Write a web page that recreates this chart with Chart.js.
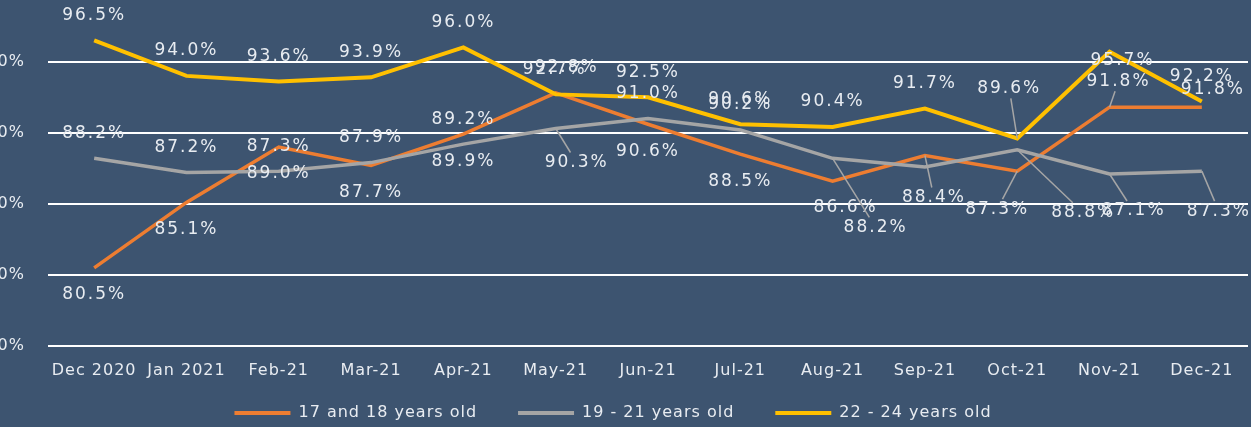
<!DOCTYPE html>
<html>
<head>
<meta charset="utf-8">
<script src="https://cdn.jsdelivr.net/npm/chart.js@4.4.1/dist/chart.umd.min.js"></script>
<style>
  html, body { margin: 0; padding: 0; width: 1251px; height: 427px; overflow: hidden; background: #3d5470; position: relative; }
  #wrap { position: absolute; left: -22px; top: -42px; width: 1273px; height: 473px; }
</style>
</head>
<body>
<div id="wrap"><canvas id="chart"></canvas></div>
<script>
const months = ['Dec 2020', 'Jan 2021', 'Feb-21', 'Mar-21', 'Apr-21', 'May-21', 'Jun-21',
  'Jul-21', 'Aug-21', 'Sep-21', 'Oct-21', 'Nov-21', 'Dec-21'];
const age17to18 = [80.5, 85.1, 89.0, 87.7, 89.9, 92.8, 90.6, 88.5, 86.6, 88.4, 87.3, 91.8, 91.8];
const age19to21 = [88.2, 87.2, 87.3, 87.9, 89.2, 90.3, 91.0, 90.2, 88.2, 87.6, 88.8, 87.1, 87.3];
const age22to24 = [96.5, 94.0, 93.6, 93.9, 96.0, 92.7, 92.5, 90.6, 90.4, 91.7, 89.6, 95.7, 92.2];
const seriesNames = ['17 and 18 years old', '19 - 21 years old', '22 - 24 years old'];
const yMin = 75, yMax = 100, yStep = 5;

const TEXT = '#e8ecf1';
const COLORS = ['#ed7d31', '#a5a5a5', '#ffc000'];

// where each data label sits relative to its point: [dx, dy, leaderLine]
// "def" is the usual spot, numbered keys are the months that Excel moved
const labelShift = [
  { def: [0, 27], 5: [11, -25], 8: [13, 26], 9: [9, 42, true], 10: [-20, 38, true], 11: [9, -26, true], 12: [11, -18] },
  { def: [0, -25], 5: [21, 34, true], 8: [43, 69, true], 9: null, 10: [66, 63, true], 11: [24, 37, true], 12: [17, 40, true] },
  { def: [0, -25], 5: [-1, -25], 10: [-8, -50, true], 11: [13, 9] }
];

const spacing = {
  id: 'spacing',
  beforeLayout(chart) { chart.ctx.letterSpacing = '1px'; },
  beforeDraw(chart) { chart.ctx.letterSpacing = '1px'; }
};

const dataLabels = {
  id: 'dataLabels',
  afterDatasetsDraw(chart) {
    const ctx = chart.ctx;
    ctx.save();
    ctx.font = '17px "DejaVu Sans"';
    ctx.letterSpacing = '2px';
    ctx.textAlign = 'center';
    ctx.textBaseline = 'middle';
    chart.data.datasets.forEach((ds, i) => {
      const meta = chart.getDatasetMeta(i);
      const shifts = labelShift[i];
      meta.data.forEach((pt, j) => {
        const s = (j in shifts) ? shifts[j] : shifts.def;
        if (!s) return;
        const [dx, dy, leader] = s;
        const cx = pt.x + dx, cy = pt.y + dy;
        const text = ds.data[j].toFixed(1) + '%';
        if (leader) {
          const hw = ctx.measureText(text).width / 2 + 2, hh = 10;
          const t = Math.min(dx ? hw / Math.abs(dx) : 1, dy ? hh / Math.abs(dy) : 1);
          ctx.strokeStyle = '#a6a6a6';
          ctx.lineWidth = 1.5;
          ctx.beginPath();
          ctx.moveTo(pt.x, pt.y);
          ctx.lineTo(cx - dx * t, cy - dy * t);
          ctx.stroke();
        }
        ctx.fillStyle = TEXT;
        ctx.fillText(text, cx, cy);
      });
    });
    ctx.restore();
  }
};

const seriesValues = [age17to18, age19to21, age22to24];

new Chart(document.getElementById('chart'), {
  type: 'line',
  data: {
    labels: months,
    datasets: seriesValues.map((vals, i) => ({
      label: seriesNames[i],
      data: vals,
      borderColor: COLORS[i],
      backgroundColor: COLORS[i],
      borderWidth: i === 2 ? 4 : 3.5,
      pointRadius: 0,
      tension: 0,
      order: 3 - i
    }))
  },
  options: {
    responsive: true,
    maintainAspectRatio: false,
    animation: false,
    layout: { padding: { left: 0, right: 3, top: 0, bottom: 0 } },
    scales: {
      x: {
        offset: true,
        grid: { display: false, drawTicks: false },
        border: { display: false },
        ticks: { color: TEXT, font: { family: 'DejaVu Sans', size: 16 }, padding: 15, maxRotation: 0, autoSkip: false },
        afterFit(scale) {
          // keep the axis box short so the legend sits close; let the labels spill below it
          scale.height = 18;
          scale._computeLabelArea = () => null;
        }
      },
      y: {
        min: yMin,
        max: yMax,
        grid: { color: '#ffffff', lineWidth: 2, drawTicks: false },
        border: { display: false },
        ticks: {
          stepSize: yStep,
          color: TEXT,
          padding: 23,
          font: { family: 'DejaVu Sans', size: 16 },
          callback: v => v.toFixed(1) + '%'
        },
        afterFit(scale) { scale.width = 70; }
      }
    },
    plugins: {
      legend: {
        position: 'bottom',
        labels: {
          color: TEXT,
          font: { family: 'DejaVu Sans', size: 16 },
          boxWidth: 56,
          boxHeight: 4,
          padding: 41,
          sort: (a, b) => a.datasetIndex - b.datasetIndex,
          generateLabels: c => Chart.defaults.plugins.legend.labels.generateLabels(c)
            .map(l => Object.assign(l, { lineWidth: 0 }))
        }
      },
      tooltip: { enabled: false }
    }
  },
  plugins: [spacing, dataLabels]
});
</script>
</body>
</html>
